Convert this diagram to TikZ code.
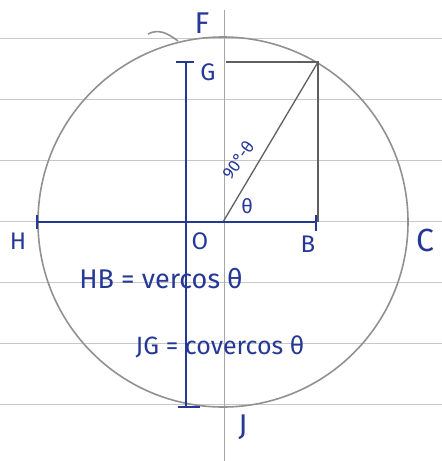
\documentclass[tikz,border=0pt]{standalone}
\usepackage{fontspec}
\setmainfont{Fira Sans}
\definecolor{ink}{RGB}{38,56,150}
\definecolor{pencil}{RGB}{145,145,145}
\definecolor{darkpencil}{RGB}{95,95,95}
\definecolor{rulegray}{RGB}{200,200,200}
\begin{document}
\begin{tikzpicture}[x=1pt,y=-1pt,
  rule/.style={draw=rulegray, line width=1pt},
  pen/.style={draw=pencil, line width=1.6pt},
  darkpen/.style={draw=darkpencil, line width=1.3pt},
  blueline/.style={draw=ink, line width=2.6pt},
  lab/.style={text=ink, inner sep=0pt, font=\fontsize{24}{28}\selectfont},
  eq/.style={text=ink, inner sep=0pt, font=\fontsize{25}{29}\selectfont}]
\useasboundingbox (0,0) rectangle (442,461);
\fill[white] (0,0) rectangle (442,461);
% ruled paper
\foreach \yy in {38,99,160,221,282,343,404} \draw[rule] (0,\yy) -- (442,\yy);
% geometry
\coordinate (O) at (223,222);
\coordinate (Vt) at (224,10);
\coordinate (Vb) at (224,461);
\coordinate (P) at (318,62);
\coordinate (Bf) at (318,222);
\coordinate (Gf) at (226,62);
\draw[rule, draw=pencil!80] (Vt) -- (Vb);
\draw[pen] (O) circle (185pt);
\draw[pen] (148,34) .. controls (158,29) and (166,32) .. (178,41);
\draw[darkpen] (O) -- (P);
\draw[darkpen] (Gf) -- (P) -- (Bf);
% blue segments
\coordinate (Hb) at (37,222);
\coordinate (Bb) at (316,222);
\coordinate (Gb) at (186,62);
\coordinate (Jb) at (186,407);
\draw[blueline] (Hb) -- (Bb);
\draw[blueline] (Gb) -- (Jb);
\draw[blueline] ([yshift=-7pt]Hb) -- ([yshift=7pt]Hb);
\draw[blueline] ([yshift=-9pt]Bb) -- ([yshift=7pt]Bb);
\draw[blueline] ([xshift=-10pt]Gb) -- ([xshift=8pt]Gb);
\draw[blueline] ([xshift=-8pt]Jb) -- ([xshift=14pt]Jb);
% labels
\node[lab, font=\fontsize{30}{34}\selectfont] (F) at (202,23) {F};
\node[lab] (G) at (208,72) {G};
\node[lab] (H) at (18,241) {H};
\node[lab] (Ol) at (200,241) {O};
\node[lab] (B) at (308,244) {B};
\node[lab, font=\fontsize{32}{36}\selectfont] (C) at (425,240) {C};
\node[lab, font=\fontsize{30}{34}\selectfont] (J) at (243,427) {J};
\node[eq, font=\fontsize{20}{24}\selectfont] (th) at (247,206) {θ};
\node[eq, font=\fontsize{17}{20}\selectfont, rotate=55] (cth) at (238,160) {90°-θ};
\node[eq, font=\fontsize{27}{31}\selectfont] (HB) at (161,279) {HB = vercos θ};
\node[eq] (JG) at (220,347) {JG = covercos θ};
\end{tikzpicture}
\end{document}
